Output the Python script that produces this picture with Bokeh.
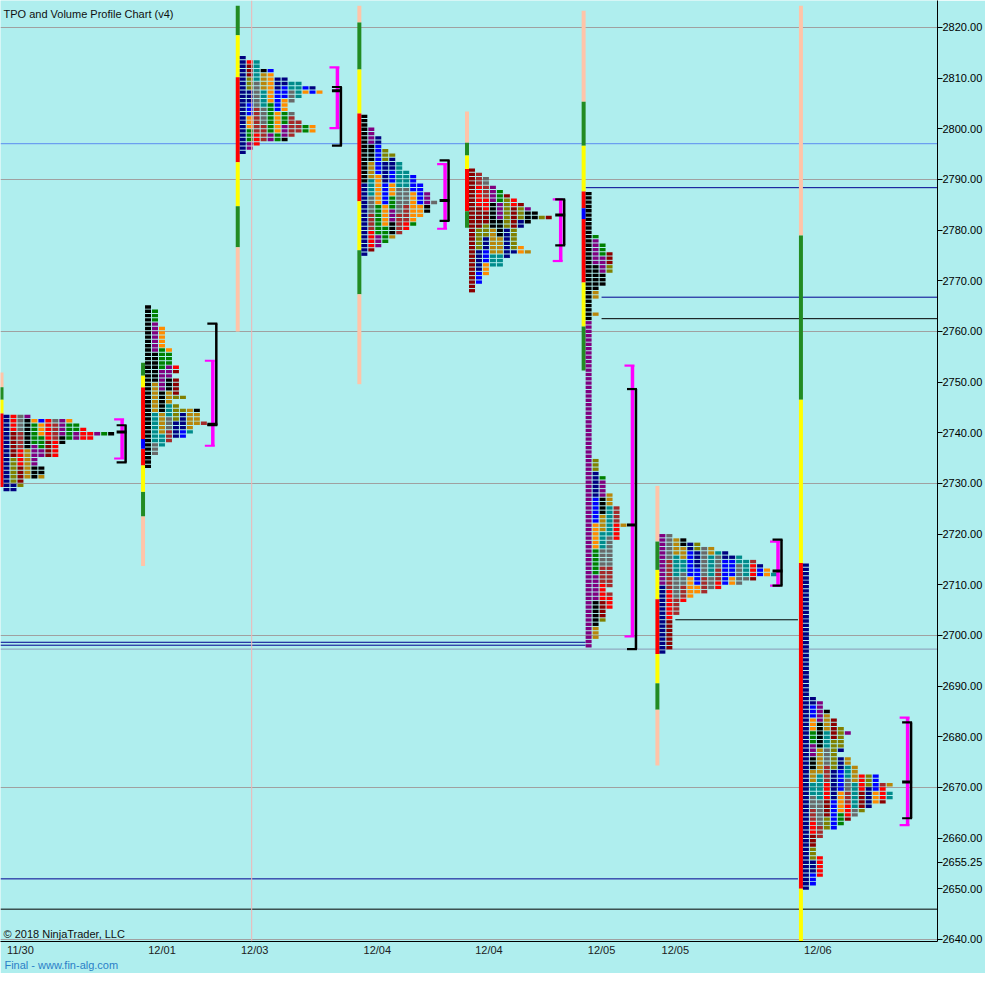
from bokeh.plotting import figure
from bokeh.models import Range1d, FixedTicker, PrintfTickFormatter, Label, Span, LinearAxis
from bokeh.embed import file_html
from bokeh.resources import INLINE

# ---------------- data ----------------
# session start positions on the time axis (bar slots) and the top price of each profile
session_x = [3, 145, 240, 362, 470, 587, 661, 805]
prof_top = [2743.21, 2764.82, 2814.02, 2802.44, 2791.83, 2787.20, 2719.68, 2713.89]

# TPO count per price row (top row first)
counts_A = [4, 10, 11, 12, 16, 13, 9, 8, 8, 8, 5, 5, 6, 6, 6, 3, 3, 2]
counts_B = [1, 2, 2, 2, 2, 3, 3, 3, 3, 3, 4, 4, 4, 4, 5, 5, 4, 5, 5, 5, 5, 6, 4, 5,
            8, 8, 8, 9, 7, 7, 6, 4, 3, 2, 2, 1, 1, 1]
counts_C = [1, 3, 3, 5, 5, 7, 9, 11, 12, 9, 8, 7, 7, 8, 8, 9, 11, 11, 8, 7, 3, 2, 1]
counts_D = [1, 1, 1, 2, 2, 3, 3, 3, 4, 5, 5, 6, 6, 7, 8, 8, 9, 9, 10, 10, 11, 10, 10,
            9, 8, 8, 7, 6, 5, 4, 3, 2, 1]
counts_E = [1, 2, 3, 3, 4, 5, 6, 7, 8, 9, 10, 12, 9, 8, 7, 7, 7, 7, 8, 9, 6, 5, 5, 3,
            3, 2, 2, 1, 1]
counts_F = ([1, 1, 1, 1, 1, 1, 1, 1, 1, 1,
             2, 2, 3, 3, 4, 4, 4, 4, 4, 3, 3, 3, 2, 2, 2, 1, 1, 1, 2, 1, 1, 1, 1]
            + [1] * 28 +
            [1, 2, 2, 2, 2, 3, 3, 3, 3, 4, 4, 4, 5, 5, 5, 5, 6, 5, 5, 5, 4, 4, 4, 4, 4,
             4, 4, 4, 4, 4, 4, 3, 4, 4, 4, 4, 3, 3, 3, 2, 2, 2, 2, 1, 1])
counts_G = [2, 4, 6, 8, 10, 12, 14, 15, 16, 17, 14, 12, 9, 7, 5, 4, 3, 3, 3, 2, 2, 2,
            2, 2, 2, 2, 2, 1]
counts_H = ([1] * 31 +
            [2, 3, 3, 4, 4, 5, 5, 6, 7, 6, 6, 6, 6, 5, 7, 7, 8, 8, 11, 11, 13, 12, 13,
             13, 12, 10, 9, 8, 7, 6, 5, 3, 3, 2, 2, 2, 2, 3, 3, 3, 3, 3, 2, 2, 1])
prof_counts = [counts_A, counts_B, counts_C, counts_D, counts_E, counts_F, counts_G, counts_H]

# period letter of the first TPO column in each session (top part / lower part)
first_col_top = ["navy", "black", "navy", "black", "darkred", "black", "purple", "navy"]
first_col_low = ["navy", "black", "navy", "navy", "darkred", "purple", "navy", "navy"]
first_col_split = [10, 20, 12, 16, 14, 30, 12, 80]  # row where the lower period takes over

# session range bars: (low, high, period type)
ib_A = [(2749.0, 2751.9, "S"), (2746.5, 2749.0, "G"), (2743.8, 2746.5, "Y"), (2729.3, 2743.8, "R")]
ib_B = [(2713.70, 2723.54, "S"), (2723.54, 2728.36, "G"), (2728.36, 2733.57, "Y"),
        (2733.57, 2736.85, "R"), (2736.85, 2738.78, "B"), (2738.78, 2749.0, "R"),
        (2749.0, 2751.32, "Y"), (2751.32, 2753.83, "G")]
ib_C = [(2818.46, 2824.24, "G"), (2810.16, 2818.46, "Y"), (2793.38, 2810.16, "R"),
        (2784.69, 2793.38, "Y"), (2776.59, 2784.69, "G"), (2760.0, 2776.59, "S")]
ib_D = [(2820.96, 2824.24, "S"), (2811.70, 2820.96, "G"), (2803.02, 2811.70, "Y"),
        (2785.66, 2803.02, "R"), (2776.01, 2785.66, "Y"), (2767.33, 2776.01, "G"),
        (2749.58, 2767.33, "S")]
ib_E = [(2797.23, 2803.41, "S"), (2794.73, 2797.23, "G"), (2792.03, 2794.73, "Y"),
        (2783.73, 2792.03, "R"), (2780.45, 2783.73, "G")]
ib_F = [(2805.34, 2823.28, "S"), (2796.66, 2805.34, "G"), (2787.59, 2796.66, "Y"),
        (2784.31, 2787.59, "R"), (2782.19, 2784.31, "B"), (2769.65, 2782.19, "R"),
        (2760.96, 2769.65, "Y"), (2752.28, 2760.96, "G")]
ib_G = [(2718.52, 2729.52, "S"), (2712.93, 2718.52, "G"), (2707.14, 2712.93, "Y"),
        (2696.33, 2707.14, "R"), (2690.55, 2696.33, "Y"), (2685.34, 2690.55, "G"),
        (2674.34, 2685.34, "S")]
ib_H = [(2778.91, 2824.24, "S"), (2746.50, 2778.91, "G"), (2714.28, 2746.50, "Y"),
        (2650.03, 2714.28, "R"), (2639.61, 2650.03, "Y")]
ib_all = [ib_A, ib_B, ib_C, ib_D, ib_E, ib_F, ib_G, ib_H]

# value areas (TPO = magenta, volume = black) and volume POC
va_x = [122, 213, 338, 446, 562, 634, 780, 910]
va_top = [2742.64, 2754.21, 2812.09, 2792.99, 2786.04, 2753.25, 2718.52, 2683.79]
va_bot = [2734.92, 2737.43, 2800.13, 2780.26, 2773.89, 2699.81, 2709.84, 2662.57]
vva_top = [2741.48, 2761.54, 2808.23, 2793.76, 2786.04, 2748.62, 2718.91, 2682.83]
vva_bot = [2734.15, 2741.48, 2796.66, 2781.80, 2776.98, 2697.30, 2709.84, 2663.92]
vpoc = [2740.13, 2741.67, 2807.50, 2785.85, 2782.96, 2721.80, 2712.73, 2671.06]

# naked levels
lvl_price = [2797.04, 2788.36, 2766.75, 2762.51, 2698.65, 2698.07, 2697.30, 2703.09, 2651.96, 2645.98]
lvl_x0 = [0, 587, 603, 603, 0, 0, 0, 677, 0, 0]
lvl_x1 = [940, 940, 940, 940, 587, 587, 940, 800, 800, 940]
lvl_kind = ["light", "navy", "navy", "black", "navy", "navy", "pale", "black", "navy", "black"]

y_ticks = [2640, 2650, 2660, 2670, 2680, 2690, 2700, 2710, 2720, 2730, 2740, 2750,
           2760, 2770, 2780, 2790, 2800, 2810, 2820]
grid_prices = [2640, 2670, 2700, 2730, 2760, 2790, 2820]
date_x = [20, 162, 255, 378, 490, 603, 677, 820]
date_labels = ["11/30", "12/01", "12/03", "12/04", "12/04", "12/05", "12/05", "12/06"]
session_divider_x = 252
last_price = 2655.25
footer_x = 61
footer_text = "Final - www.fin-alg.com"

# ---------------- style ----------------
BG = "#AFEEEE"
PAL = ["#000080", "#FF8C00", "#800080", "#B8860B", "#696969", "#FF0000", "#808000",
       "#0000FF", "#008000", "#000000", "#008B8B", "#A52A2A", "#8B0000"]
NAMED = {"navy": "#000080", "black": "#000000", "purple": "#800080", "darkred": "#8B0000"}
IBCOL = {"S": "#FFC4A8", "G": "#228B22", "Y": "#FFFF00", "R": "#FF0000", "B": "#0000FF"}
LVLCOL = {"light": "#5C8DF0", "navy": "#000090", "black": "#000000", "pale": "#8A9AB8"}
ROW_STEP = 0.85
BOX_H = 0.33
COL_PITCH = 7
BOX_W = 6
FONT = "Liberation Sans"

p = figure(width=985, height=973, x_range=Range1d(0, 940), y_range=Range1d(2639.6, 2825.3),
           y_axis_location="right", output_backend="svg", toolbar_location=None,
           min_border_left=0, min_border_top=0, min_border_right=45, min_border_bottom=20,
           background_fill_color=BG, border_fill_color=BG, outline_line_color=None)

p.xgrid.visible = False
p.ygrid.ticker = FixedTicker(ticks=grid_prices)
p.ygrid.grid_line_color = "#A0A0A0"

ya = p.yaxis[0]
ya.ticker = FixedTicker(ticks=y_ticks + [last_price])
ya.formatter = PrintfTickFormatter(format="%.2f")
ya.major_tick_out = 5
ya.major_tick_in = 0
ya.minor_tick_out = 0
ya.minor_tick_in = 0
ya.axis_line_color = "black"
ya.major_tick_line_color = "black"
ya.major_label_standoff = 0
ya.major_label_text_font = FONT
ya.major_label_text_font_size = "11px"
ya.major_label_text_color = "#000000"

xa = p.xaxis[0]
xa.ticker = FixedTicker(ticks=date_x)
xa.major_label_overrides = {x: lab for x, lab in zip(date_x, date_labels)}
xa.major_tick_out = 0
xa.major_tick_in = 0
xa.minor_tick_out = 0
xa.minor_tick_in = 0
xa.axis_line_color = "black"
xa.major_label_standoff = 2
xa.major_label_text_font = FONT
xa.major_label_text_font_size = "11px"
xa.major_label_text_color = "#202020"

fa = LinearAxis(ticker=FixedTicker(ticks=[footer_x]),
                major_label_overrides={footer_x: footer_text})
fa.axis_line_color = None
fa.major_tick_out = 0
fa.major_tick_in = 0
fa.minor_tick_out = 0
fa.minor_tick_in = 0
fa.major_label_standoff = 0
fa.major_label_text_font = FONT
fa.major_label_text_font_size = "11px"
fa.major_label_text_color = "#2A7FC8"
p.add_layout(fa, "below")

p.add_layout(Span(location=session_divider_x, dimension="height", line_color="#F2B4B4", line_width=1))

# level lines
p.segment(x0=lvl_x0, x1=lvl_x1, y0=lvl_price, y1=lvl_price,
          line_color=[LVLCOL[k] for k in lvl_kind], line_width=1)

# session range bars
bl, br, bt, bb, bc = [], [], [], [], []
for x0, ib in zip(session_x, ib_all):
    for lo, hi, key in ib:
        bl.append(x0 - 4)
        br.append(x0)
        bt.append(hi)
        bb.append(lo)
        bc.append(IBCOL[key])
p.quad(left=bl, right=br, top=bt, bottom=bb, fill_color=bc, line_color=None)

# TPO boxes
def tpo_color(s, r, k):
    if k == 0:
        key = first_col_top[s] if r < first_col_split[s] else first_col_low[s]
        return NAMED[key]
    ch = 3 + (k * 3 + s) % 5
    c = (r + 2 * k + s) // ch
    return PAL[(k * 5 + c * 7 + s * 3) % len(PAL)]

L, R, T, B, C = [], [], [], [], []
for s, (x0, top, counts) in enumerate(zip(session_x, prof_top, prof_counts)):
    for r, w in enumerate(counts):
        price = top - r * ROW_STEP
        for k in range(w):
            left = x0 + k * COL_PITCH
            L.append(left)
            R.append(left + BOX_W)
            T.append(price + BOX_H)
            B.append(price - BOX_H)
            C.append(tpo_color(s, r, k))
p.quad(left=L, right=R, top=T, bottom=B, fill_color=C, line_color=None)

# value area brackets
mx = va_x
p.segment(x0=mx, x1=mx, y0=va_bot, y1=va_top, line_color="#FF00FF", line_width=3.5)
p.segment(x0=[x - 8 for x in mx], x1=[x + 2 for x in mx], y0=va_top, y1=va_top,
          line_color="#FF00FF", line_width=2.2)
p.segment(x0=[x - 8 for x in mx], x1=[x + 2 for x in mx], y0=va_bot, y1=va_bot,
          line_color="#FF00FF", line_width=2.2)
kx = [x + 3.5 for x in va_x]
p.segment(x0=kx, x1=kx, y0=vva_bot, y1=vva_top, line_color="black", line_width=2.5)
for ys, lw in ((vva_top, 2.2), (vva_bot, 2.2), (vpoc, 3.0)):
    p.segment(x0=[x - 9 for x in kx], x1=[x + 1 for x in kx], y0=ys, y1=ys,
              line_color="black", line_width=lw)

# texts inside the frame (screen y counts up from the bottom of the frame)
p.add_layout(Label(x=3, y=928, x_units="screen", y_units="screen",
                   text="TPO and Volume Profile Chart (v4)", text_font=FONT,
                   text_font_size="11px", text_color="#101010", text_baseline="middle"))
p.add_layout(Label(x=3, y=8, x_units="screen", y_units="screen",
                   text="\u00a9 2018 NinjaTrader, LLC", text_font=FONT,
                   text_font_size="11px", text_color="#101010", text_baseline="middle"))

open("out.html", "w").write(file_html(p, INLINE))
